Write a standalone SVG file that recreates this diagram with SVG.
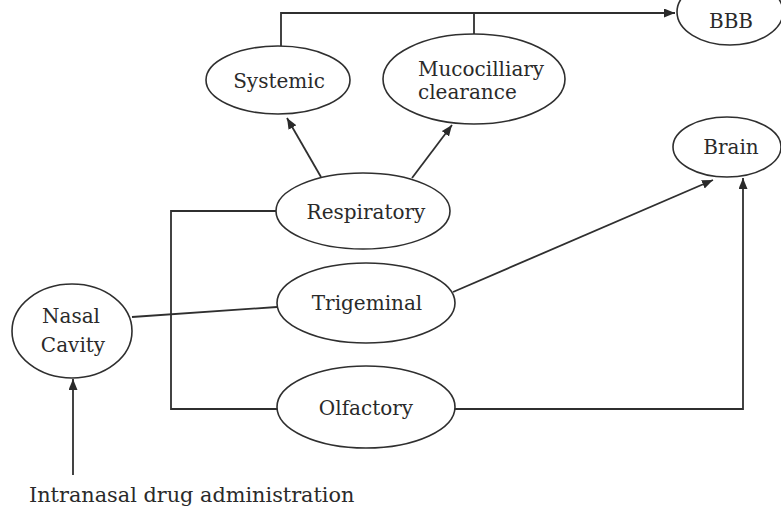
<svg xmlns="http://www.w3.org/2000/svg" width="781" height="508" viewBox="0 0 781 508">
<defs>
<marker id="arr" markerUnits="userSpaceOnUse" markerWidth="12" markerHeight="10" refX="11" refY="4.5" orient="auto">
<path d="M0,0 L11,4.5 L0,9 z" fill="#2a2a2a"/>
</marker>
<style>
.node ellipse{fill:#fff;stroke:#2f2f2f;stroke-width:1.6}
.node text,.label{font-family:"DejaVu Serif","Liberation Serif",serif;font-size:20px;fill:#2a2a2a}
.node text{text-anchor:middle}
.label{font-size:20.8px}
#connectors path{fill:none;stroke:#2f2f2f;stroke-width:1.8}
.arrow{marker-end:url(#arr)}
</style>
</defs>
<rect width="781" height="508" fill="#fff"/>
<g id="connectors">
<path class="arrow" d="M281,46 V13 H675"/>
<path d="M474,34 V13"/>
<path class="arrow" d="M321,177 L287,118"/>
<path class="arrow" d="M412,178 L452,125"/>
<path d="M276,211 H171 V409 H277"/>
<path d="M132,317 L277,307"/>
<path class="arrow" d="M453,292 L713,180"/>
<path class="arrow" d="M455,409 H743 V178"/>
<path class="arrow" d="M73,475 V379"/>
</g>
<g id="bbb" class="node"><ellipse cx="730" cy="12" rx="53" ry="33"/><text x="731" y="28">BBB</text></g>
<g id="systemic" class="node"><ellipse cx="278" cy="80" rx="72" ry="34"/><text x="279" y="88">Systemic</text></g>
<g id="mucocilliary" class="node"><ellipse cx="474" cy="79" rx="91" ry="45"/><text x="418" y="76" style="text-anchor:start">Mucocilliary</text><text x="418" y="99" style="text-anchor:start">clearance</text></g>
<g id="brain" class="node"><ellipse cx="727" cy="147" rx="54" ry="30"/><text x="731" y="154">Brain</text></g>
<g id="respiratory" class="node"><ellipse cx="363" cy="211" rx="87" ry="38"/><text x="366" y="219">Respiratory</text></g>
<g id="trigeminal" class="node"><ellipse cx="366" cy="303" rx="89" ry="40"/><text x="367" y="310">Trigeminal</text></g>
<g id="olfactory" class="node"><ellipse cx="366" cy="407" rx="89" ry="41"/><text x="366" y="415">Olfactory</text></g>
<g id="nasal" class="node"><ellipse cx="72" cy="331" rx="60" ry="47"/><text x="71" y="323">Nasal</text><text x="73" y="352">Cavity</text></g>
<text class="label" x="29" y="502">Intranasal drug administration</text>
</svg>
